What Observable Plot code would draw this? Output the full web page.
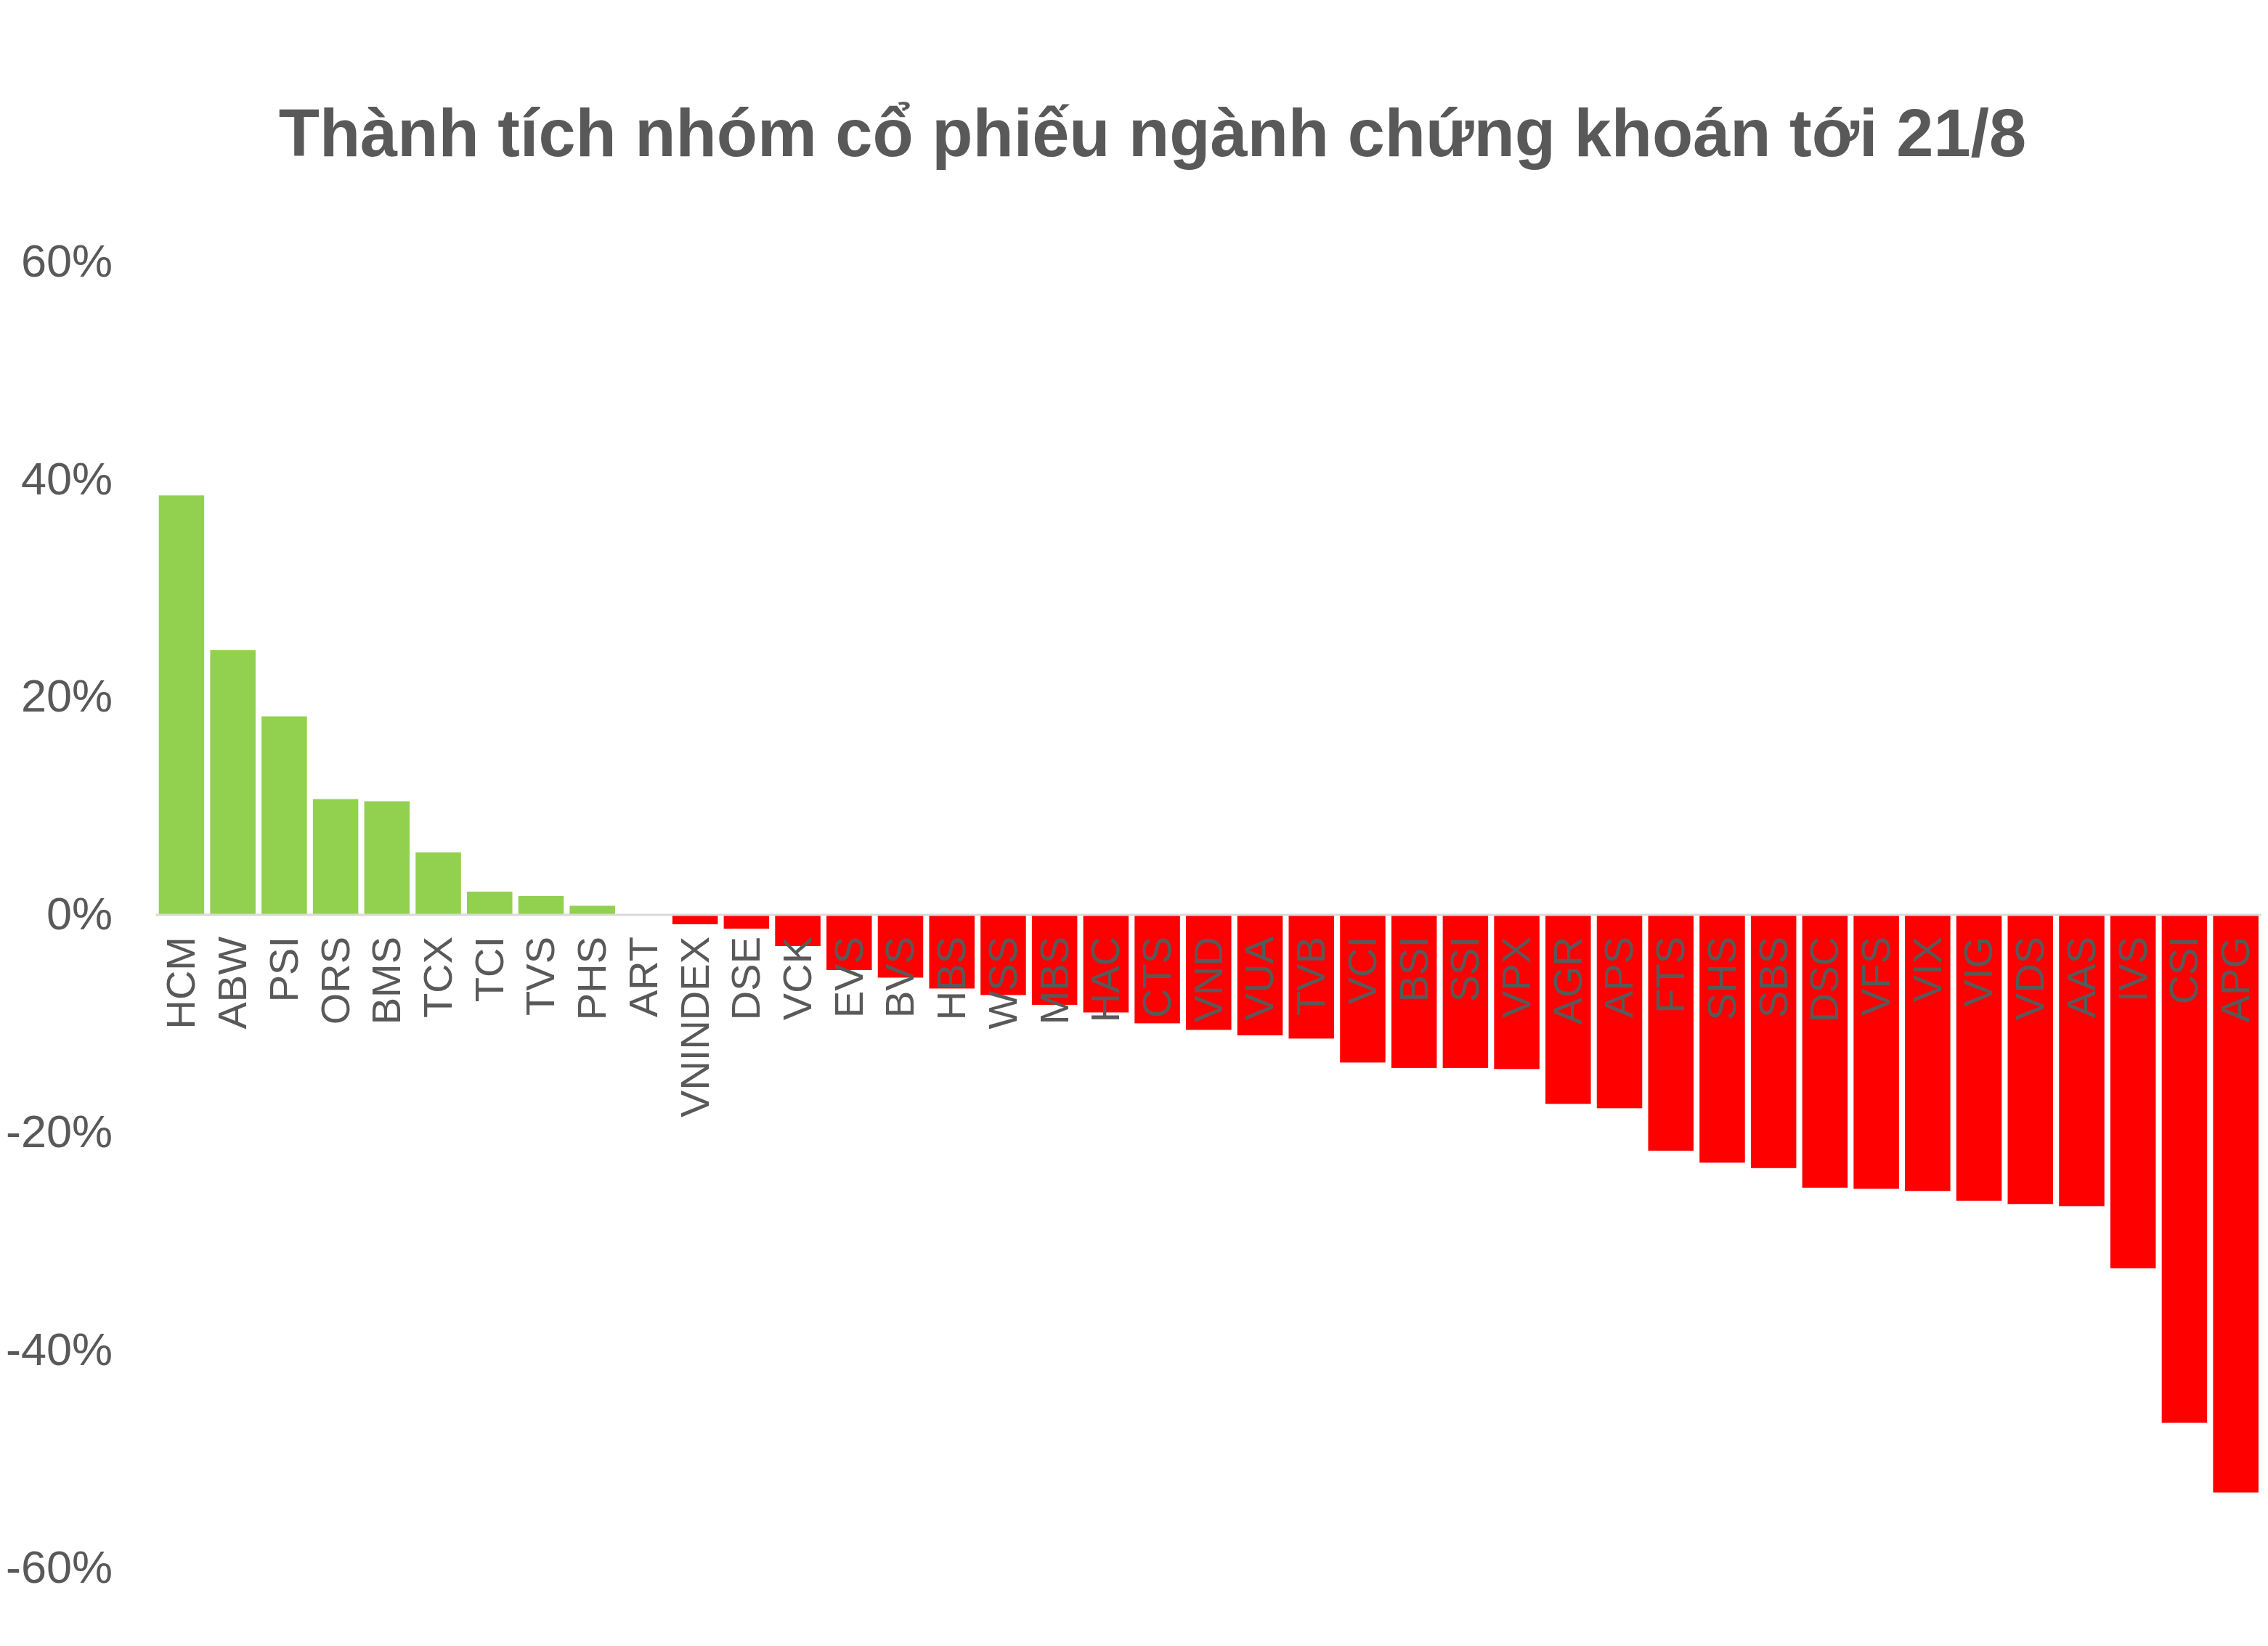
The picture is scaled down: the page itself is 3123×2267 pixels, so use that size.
<!DOCTYPE html>
<html>
<head>
<meta charset="utf-8">
<script src="https://cdn.jsdelivr.net/npm/d3@7"></script>
<script src="https://cdn.jsdelivr.net/npm/@observablehq/plot@0.6"></script>
<style>
  html, body { margin: 0; padding: 0; background: #ffffff; }
  #title {
    margin: 0;
    padding-top: 137px;
    padding-left: 51px;
    height: 93px;
    line-height: 92px;
    width: 3072px;
    box-sizing: content-box;
    text-align: center;
    font-family: "Liberation Sans", Arial, Helvetica, sans-serif;
    font-weight: bold;
    font-size: 92px;
    color: #595959;
    white-space: nowrap;
  }
  #wrap { width: 3123px; }
</style>
</head>
<body>
<div id="wrap">
  <div id="title">Thành tích nhóm cổ phiếu ngành chứng khoán tới 21/8</div>
  <div id="chart"></div>
</div>
<script>
const names = ["HCM","ABW","PSI","ORS","BMS","TCX","TCI","TVS","PHS","ART","VNINDEX","DSE","VCK","EVS","BVS","HBS","WSS","MBS","HAC","CTS","VND","VUA","TVB","VCI","BSI","SSI","VPX","AGR","APS","FTS","SHS","SBS","DSC","VFS","VIX","VIG","VDS","AAS","IVS","CSI","APG"];
const values = [38.5,24.3,18.2,10.6,10.4,5.7,2.1,1.7,0.8,0.0,-0.9,-1.3,-2.9,-5.1,-5.8,-6.8,-7.4,-8.3,-9.0,-10.0,-10.6,-11.1,-11.4,-13.6,-14.1,-14.1,-14.2,-17.4,-17.8,-21.7,-22.8,-23.3,-25.1,-25.2,-25.4,-26.3,-26.6,-26.8,-32.5,-46.7,-53.1];
const yTicks = [-60,-40,-20,0,20,40,60];
const posColor = "#92D050";
const negColor = "#FF0000";

const data = names.map((n, i) => ({name: n, value: values[i]}));

const chart = Plot.plot({
  width: 3123,
  height: 2037,
  marginTop: 130,
  marginBottom: 108,
  marginLeft: 214.6,
  marginRight: 9,
  style: {fontFamily: "'Liberation Sans', Arial, Helvetica, sans-serif", color: "#595959", background: "#ffffff"},
  x: {domain: names, paddingInner: 0.116, paddingOuter: 0.058, round: false, axis: null},
  y: {domain: [-60, 60], axis: null},
  marks: [
    Plot.axisY({ticks: yTicks, tickFormat: d => `${d}%`, tickSize: 0, tickPadding: 60, fontSize: 63, label: null}),
    Plot.barY(data.filter(d => d.value >= 0), {x: "name", y: "value", fill: posColor}),
    Plot.barY(data.filter(d => d.value < 0), {x: "name", y: "value", fill: negColor}),
    Plot.ruleY([0], {stroke: "#d9d9d9", strokeWidth: 3}),
    Plot.text(data, {x: "name", y: () => 0, text: "name", rotate: -90, textAnchor: "end", dy: 30, fontSize: 56, fill: "#595959"})
  ]
});
document.getElementById("chart").appendChild(chart);
</script>
</body>
</html>
